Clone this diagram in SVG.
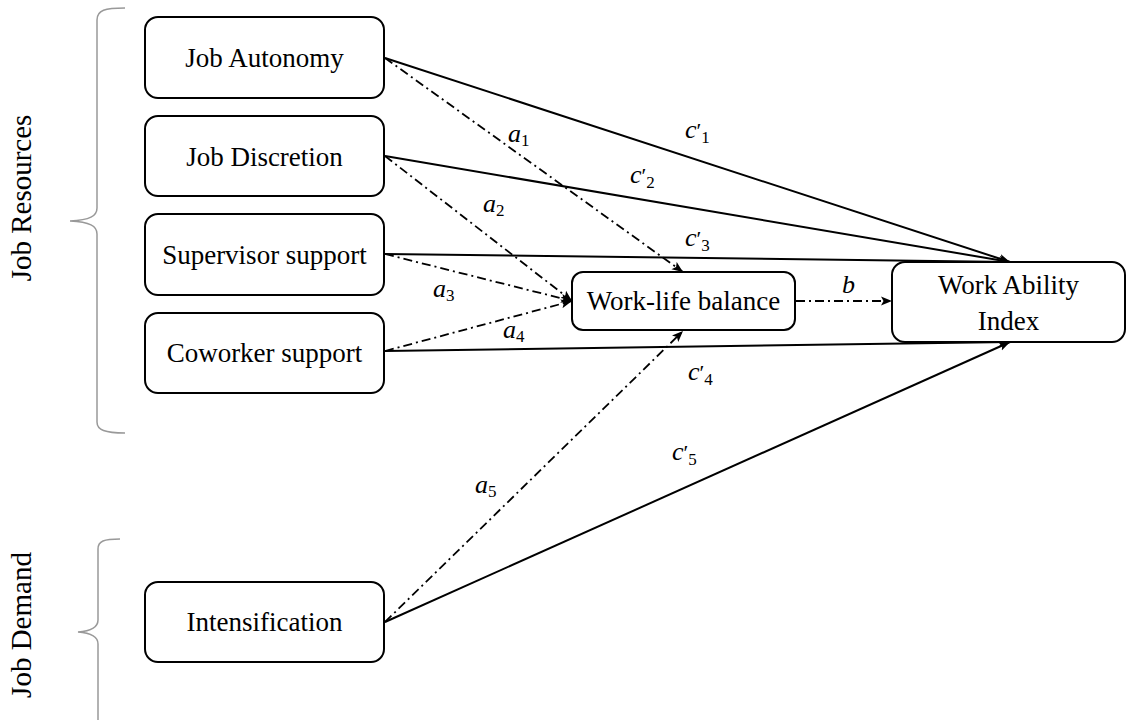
<svg xmlns="http://www.w3.org/2000/svg" width="1127" height="722" viewBox="0 0 1127 722">
<defs>
<marker id="arr" markerUnits="userSpaceOnUse" markerWidth="12" markerHeight="10" refX="11" refY="5" orient="auto">
<path d="M0,0.5 L11,5 L0,9.5 L2.5,5 Z" fill="#000"/>
</marker>
</defs>
<style>
text{font-family:'Liberation Serif','DejaVu Serif',serif}
.box{fill:#fff;stroke:#000;stroke-width:2}
.t{font-size:27px;fill:#000;text-anchor:middle}
.side{font-size:29px;fill:#000;text-anchor:middle}
.brace{fill:none;stroke:#999;stroke-width:1.5}
.solid{fill:none;stroke:#000;stroke-width:2;marker-end:url(#arr)}
.dd{fill:none;stroke:#000;stroke-width:1.8;stroke-dasharray:9 4 2 4;marker-end:url(#arr)}
.lab{font-size:26px;font-style:italic;fill:#000}
.sub{font-style:normal;font-size:17px}
.pr{font-style:normal;font-size:22px}
</style>
<g id="braces">
<path class="brace" d="M125,8 C105,8 97,10 97,20 L97,208 C97,216 90,220 70,221 C90,222 97,226 97,234 L97,422 C97,430 105,433 125,433"/>
<path class="brace" d="M120,539 C104,539 98,541 98,549 L98,620 C98,627 92,631 78,632 C92,633 98,637 98,644 L98,720"/>
<text class="side" font-family="Liberation Serif, serif" transform="translate(31,198) rotate(-90)">Job Resources</text>
<text class="side" font-family="Liberation Serif, serif" transform="translate(31,625) rotate(-90)">Job Demand</text>
</g>
<g id="connectors">
<line class="solid" x1="385" y1="58" x2="1010" y2="262"/>
<line class="solid" x1="385" y1="156" x2="1010" y2="262"/>
<line class="solid" x1="385" y1="254" x2="1010" y2="262"/>
<line class="solid" x1="385" y1="351" x2="1010" y2="342"/>
<line class="solid" x1="385" y1="622" x2="1010" y2="342"/>
<line class="dd" x1="385" y1="58" x2="683" y2="272"/>
<line class="dd" x1="385" y1="156" x2="572" y2="301"/>
<line class="dd" x1="385" y1="254" x2="572" y2="301"/>
<line class="dd" x1="385" y1="351" x2="572" y2="301"/>
<line class="dd" x1="385" y1="622" x2="683" y2="331"/>
<line class="dd" x1="796" y1="301" x2="892" y2="301"/>
</g>
<g id="labels">
<text class="lab" x="508" y="142">a<tspan class="sub" dy="4">1</tspan></text>
<text class="lab" x="483" y="212">a<tspan class="sub" dy="4">2</tspan></text>
<text class="lab" x="433" y="297">a<tspan class="sub" dy="4">3</tspan></text>
<text class="lab" x="503" y="338">a<tspan class="sub" dy="4">4</tspan></text>
<text class="lab" x="475" y="493">a<tspan class="sub" dy="4">5</tspan></text>
<text class="lab" x="685" y="138">c<tspan class="pr">′</tspan><tspan class="sub" dy="5">1</tspan></text>
<text class="lab" x="630" y="183">c<tspan class="pr">′</tspan><tspan class="sub" dy="5">2</tspan></text>
<text class="lab" x="685" y="246">c<tspan class="pr">′</tspan><tspan class="sub" dy="5">3</tspan></text>
<text class="lab" x="688" y="380">c<tspan class="pr">′</tspan><tspan class="sub" dy="5">4</tspan></text>
<text class="lab" x="672" y="460">c<tspan class="pr">′</tspan><tspan class="sub" dy="5">5</tspan></text>
<text class="lab" x="842" y="293">b</text>
</g>
<g id="node-job-autonomy">
<rect class="box" x="145" y="17" width="239" height="81" rx="13"/>
<text class="t" x="264.5" y="67">Job Autonomy</text>
</g>
<g id="node-job-discretion">
<rect class="box" x="145" y="116" width="239" height="80" rx="13"/>
<text class="t" x="264.5" y="166">Job Discretion</text>
</g>
<g id="node-supervisor-support">
<rect class="box" x="145" y="214" width="239" height="81" rx="13"/>
<text class="t" x="264.5" y="264">Supervisor support</text>
</g>
<g id="node-coworker-support">
<rect class="box" x="145" y="313" width="239" height="80" rx="13"/>
<text class="t" x="264.5" y="362">Coworker support</text>
</g>
<g id="node-intensification">
<rect class="box" x="145" y="582" width="239" height="80" rx="13"/>
<text class="t" x="264.5" y="631">Intensification</text>
</g>
<g id="node-work-life-balance">
<rect class="box" x="572" y="272" width="223" height="58" rx="11"/>
<text class="t" x="683.5" y="310">Work-life balance</text>
</g>
<g id="node-work-ability-index">
<rect class="box" x="892" y="262" width="233" height="80" rx="13"/>
<text class="t" x="1008.5" y="294">Work Ability</text>
<text class="t" x="1008.5" y="330">Index</text>
</g>
</svg>
